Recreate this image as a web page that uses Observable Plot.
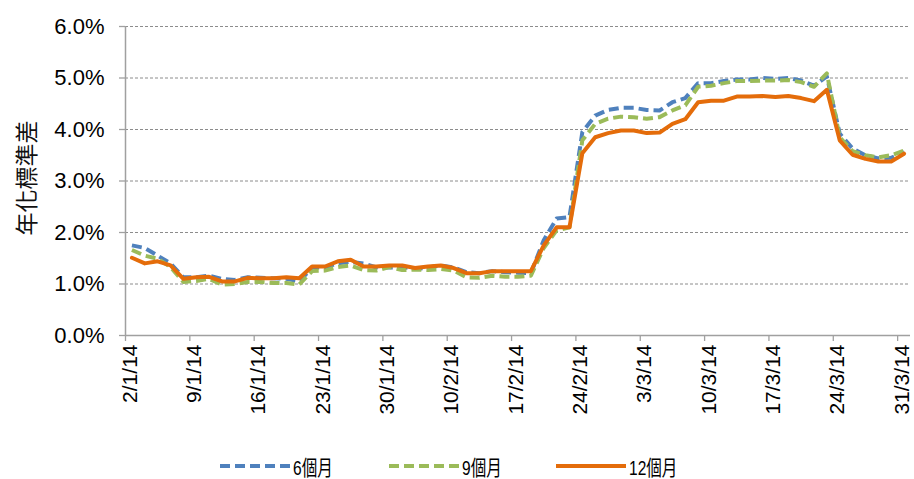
<!DOCTYPE html>
<html>
<head>
<meta charset="utf-8">
<script src="https://cdn.jsdelivr.net/npm/d3@7"></script>
<script src="https://cdn.jsdelivr.net/npm/@observablehq/plot@0.6"></script>
<style>
  html, body { margin: 0; padding: 0; background: #fff; }
  #legend { display: flex; justify-content: center; align-items: center; margin-top: 13px; height: 26px;
    font-family: "Liberation Sans", Arial, "Noto Sans CJK TC", sans-serif; font-size: 21px; color: #000; }
  .item { display: flex; align-items: center; margin: 0 22px; }
  .item svg { margin-right: 3px; flex: none; }
  .box { display: inline-block; overflow: visible; white-space: nowrap; }
  .lbl { display: inline-block; transform: scaleX(0.74); transform-origin: left center; }
</style>
</head>
<body>
<div id="chart"></div>
<div id="legend"></div>
<script>
// Categories: Hong Kong trading days, 2 Jan 2014 – 31 Mar 2014
const dates = [
  "2/1/14","3/1/14","6/1/14","7/1/14","8/1/14","9/1/14","10/1/14","13/1/14","14/1/14","15/1/14",
  "16/1/14","17/1/14","20/1/14","21/1/14","22/1/14","23/1/14","24/1/14","27/1/14","28/1/14","29/1/14",
  "30/1/14","4/2/14","5/2/14","6/2/14","7/2/14","10/2/14","11/2/14","12/2/14","13/2/14","14/2/14",
  "17/2/14","18/2/14","19/2/14","20/2/14","21/2/14","24/2/14","25/2/14","26/2/14","27/2/14","28/2/14",
  "3/3/14","4/3/14","5/3/14","6/3/14","7/3/14","10/3/14","11/3/14","12/3/14","13/3/14","14/3/14",
  "17/3/14","18/3/14","19/3/14","20/3/14","21/3/14","24/3/14","25/3/14","26/3/14","27/3/14","28/3/14",
  "31/3/14"
];
const tickLabels = ["2/1/14","9/1/14","16/1/14","23/1/14","30/1/14","10/2/14","17/2/14","24/2/14","3/3/14","10/3/14","17/3/14","24/3/14","31/3/14"];
const yTicks = [0, 1, 2, 3, 4, 5, 6];

// Annualised standard deviation (%)
const s6 = [1.75,1.70,1.55,1.40,1.13,1.13,1.16,1.10,1.08,1.13,1.12,1.11,1.10,1.05,
  1.32,1.32,1.40,1.43,1.40,1.32,1.32,1.33,1.29,1.32,1.36,1.32,1.23,1.21,1.25,1.23,1.22,1.21,
  1.85,2.27,2.30,3.95,4.27,4.38,4.42,4.42,4.38,4.37,4.53,4.61,4.90,4.90,4.94,4.97,4.97,5.00,
  4.98,5.00,4.95,4.85,5.03,3.92,3.63,3.50,3.44,3.45,3.56];
const s9 = [1.66,1.55,1.49,1.33,1.04,1.06,1.10,0.99,1.00,1.04,1.04,1.02,1.02,0.99,
  1.25,1.26,1.33,1.36,1.27,1.26,1.33,1.27,1.28,1.27,1.29,1.26,1.13,1.12,1.16,1.14,1.14,1.16,
  1.70,2.04,2.10,3.79,4.11,4.21,4.25,4.24,4.21,4.24,4.37,4.47,4.83,4.85,4.90,4.94,4.94,4.95,
  4.95,4.96,4.92,4.83,5.09,3.85,3.58,3.50,3.46,3.50,3.59];
const s12 = [1.51,1.40,1.44,1.36,1.10,1.13,1.14,1.05,1.05,1.12,1.11,1.11,1.13,1.11,
  1.34,1.34,1.44,1.47,1.34,1.34,1.36,1.36,1.31,1.34,1.36,1.31,1.21,1.21,1.25,1.25,1.25,1.25,
  1.75,2.10,2.10,3.54,3.85,3.93,3.98,3.98,3.93,3.94,4.11,4.20,4.53,4.56,4.56,4.64,4.64,4.65,
  4.63,4.65,4.61,4.55,4.77,3.79,3.51,3.43,3.38,3.38,3.53];

const seriesNames = ["6個月", "9個月", "12個月"];
const seriesColors = ["#4F81BD", "#9BBB59", "#E46C0A"];
const seriesDash = ["10,5", "10,5", null];

const allSeries = [s6, s9, s12];
const rows = allSeries.map((s, k) => s.map((v, i) => ({i, v, k})));

const xDomain = [-0.5, dates.length - 0.5];
const labelIdx = tickLabels.map(l => dates.indexOf(l));
const boundaryIdx = labelIdx.map(i => i - 0.5);

const axisGrey = "#a0a0a0";
const fontMain = "'Liberation Sans', Arial, sans-serif";

const chart = Plot.plot({
  width: 914,
  height: 440,
  marginLeft: 125,
  marginRight: 4,
  marginTop: 26,
  marginBottom: 105,
  x: {type: "linear", domain: xDomain},
  y: {domain: [0, 6]},
  style: {fontFamily: fontMain, fontSize: "22px", color: "#000", background: "#fff", overflow: "visible"},
  marks: [
    Plot.gridY(yTicks.filter(d => d > 0), {stroke: "#8c8c8c", strokeOpacity: 1, strokeDasharray: "3,2", strokeWidth: 1}),
    Plot.axisY(yTicks, {tickFormat: d => d.toFixed(1) + "%", tickSize: 6, tickPadding: 15, stroke: axisGrey, strokeWidth: 1.3, label: null, fontSize: 22}),
    Plot.axisX(boundaryIdx, {tickSize: 6, tickFormat: () => "", stroke: axisGrey, strokeWidth: 1.3, label: null}),
    Plot.axisX(labelIdx, {tickSize: 0, tickPadding: 9, tickRotate: -90, tickFormat: i => dates[i], label: null, fontSize: 21, dx: -2}),
    Plot.ruleX([xDomain[0]], {stroke: axisGrey, strokeWidth: 1.5}),
    Plot.ruleY([0], {stroke: axisGrey, strokeWidth: 1.5}),
    Plot.text(["年化標準差"], {frameAnchor: "left", dx: -98, dy: -3, rotate: -90, textAnchor: "middle", fontSize: 23,
      fontFamily: "'Noto Sans CJK TC', sans-serif", fill: "#111"}),
    ...rows.map((r, k) => Plot.line(r, {x: "i", y: "v", stroke: seriesColors[k], strokeWidth: 4,
      strokeDasharray: seriesDash[k], strokeLinejoin: "round", strokeLinecap: seriesDash[k] ? "butt" : "round"}))
  ]
});
document.getElementById("chart").appendChild(chart);

// Legend
const legendBoxWidths = [52, 50, 66];
const legend = document.getElementById("legend");
seriesNames.forEach((name, k) => {
  const item = document.createElement("div");
  item.className = "item";
  const dash = seriesDash[k] ? `stroke-dasharray="${seriesDash[k]}"` : "";
  item.innerHTML = `<svg width="70" height="10"><line x1="0" y1="5" x2="70" y2="5" stroke="${seriesColors[k]}" stroke-width="4" ${dash}/></svg><span class="box" style="width:${legendBoxWidths[k]}px"><span class="lbl">${name}</span></span>`;
  legend.appendChild(item);
});
</script>
</body>
</html>
